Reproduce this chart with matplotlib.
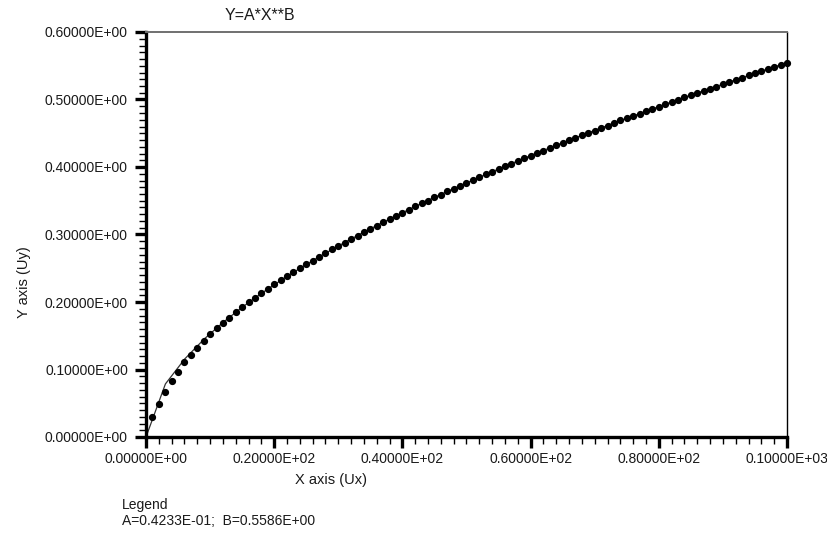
import numpy as np
import matplotlib

matplotlib.use("Agg")
import matplotlib.pyplot as plt
from matplotlib.ticker import FuncFormatter, MultipleLocator

plt.rcParams["font.family"] = ["Liberation Sans", "DejaVu Sans"]

# fitted power law  Y = A * X**B
A = 0.04233
B = 0.5586

# measured points, one per unit step in X
x_data = np.arange(1, 101)
y_data = [
    0.029, 0.049, 0.067, 0.083, 0.097, 0.111, 0.122, 0.132, 0.142, 0.152,
    0.161, 0.169, 0.177, 0.185, 0.193, 0.200, 0.206, 0.213, 0.219, 0.226,
    0.232, 0.238, 0.244, 0.250, 0.256, 0.261, 0.267, 0.272, 0.278, 0.283,
    0.288, 0.293, 0.298, 0.303, 0.308, 0.313, 0.318, 0.323, 0.328, 0.332,
    0.337, 0.342, 0.346, 0.350, 0.355, 0.359, 0.364, 0.368, 0.372, 0.376,
    0.381, 0.385, 0.389, 0.393, 0.397, 0.401, 0.405, 0.409, 0.413, 0.417,
    0.421, 0.424, 0.428, 0.432, 0.436, 0.440, 0.443, 0.447, 0.451, 0.454,
    0.458, 0.461, 0.465, 0.469, 0.472, 0.476, 0.479, 0.483, 0.486, 0.489,
    0.493, 0.496, 0.500, 0.503, 0.506, 0.510, 0.513, 0.516, 0.519, 0.523,
    0.526, 0.529, 0.532, 0.536, 0.539, 0.542, 0.545, 0.548, 0.551, 0.554,
]

TEXT = "#1a1a1a"
FS = 10


def fortran_e(v, digits=5):
    """Format like Fortran's E edit descriptor: 0.xxxxxE+nn."""
    if v == 0:
        return "0." + "0" * digits + "E+00"
    e = int(np.floor(np.log10(abs(v)))) + 1
    m = v / 10.0 ** e
    return f"{m:.{digits}f}E{e:+03d}"


fig = plt.figure(figsize=(8.28, 5.34), dpi=100)
ax = fig.add_axes([146 / 828, 1 - 437 / 534, 641 / 828, 405 / 534])

# fit curve, sampled coarsely like the original plotting package
x_fit = np.linspace(0, 100, 34)
ax.plot(x_fit, A * x_fit ** B, color="#333333", linewidth=0.9, zorder=2)
ax.plot(x_data, y_data, linestyle="none", marker="o", markersize=4.2,
        color="black", zorder=3, clip_on=False)

ax.set_xlim(0, 100)
ax.set_ylim(0, 0.6)
ax.xaxis.set_major_locator(MultipleLocator(20))
ax.xaxis.set_minor_locator(MultipleLocator(2))
ax.yaxis.set_major_locator(MultipleLocator(0.1))
ax.yaxis.set_minor_locator(MultipleLocator(0.01))
ax.xaxis.set_major_formatter(FuncFormatter(lambda v, p: fortran_e(v)))
ax.yaxis.set_major_formatter(FuncFormatter(lambda v, p: fortran_e(v)))

ax.tick_params(which="major", direction="out", length=8, width=2.4,
               labelsize=FS, labelcolor=TEXT)
ax.tick_params(which="minor", direction="out", length=5, width=1.0)
ax.tick_params(axis="x", which="major", pad=3)
ax.tick_params(axis="y", which="major", pad=5)

for side in ("left", "bottom"):
    ax.spines[side].set_linewidth(2.4)
    ax.spines[side].set_color("black")
ax.spines["top"].set_linewidth(1.4)
ax.spines["top"].set_color("#707070")
ax.spines["right"].set_linewidth(1.0)
ax.spines["right"].set_color("black")

fig.text(225 / 828, 1 - 16 / 534, "Y=A*X**B", ha="left", va="center",
         fontsize=11.5, color=TEXT)
fig.text(331 / 828, 1 - 480 / 534, "X axis (Ux)", ha="center", va="center",
         fontsize=10.5, color=TEXT)
fig.text(24 / 828, 1 - 282 / 534, "Y axis (Uy)", ha="center", va="center",
         rotation=90, fontsize=10.5, color=TEXT)
fig.text(122 / 828, 1 - 505 / 534, "Legend", ha="left", va="center",
         fontsize=FS, color=TEXT)
fig.text(122 / 828, 1 - 521 / 534,
         f"A={fortran_e(A, 4)};  B={fortran_e(B, 4)}",
         ha="left", va="center", fontsize=FS, color=TEXT)

fig.savefig("out.png", dpi=100)
